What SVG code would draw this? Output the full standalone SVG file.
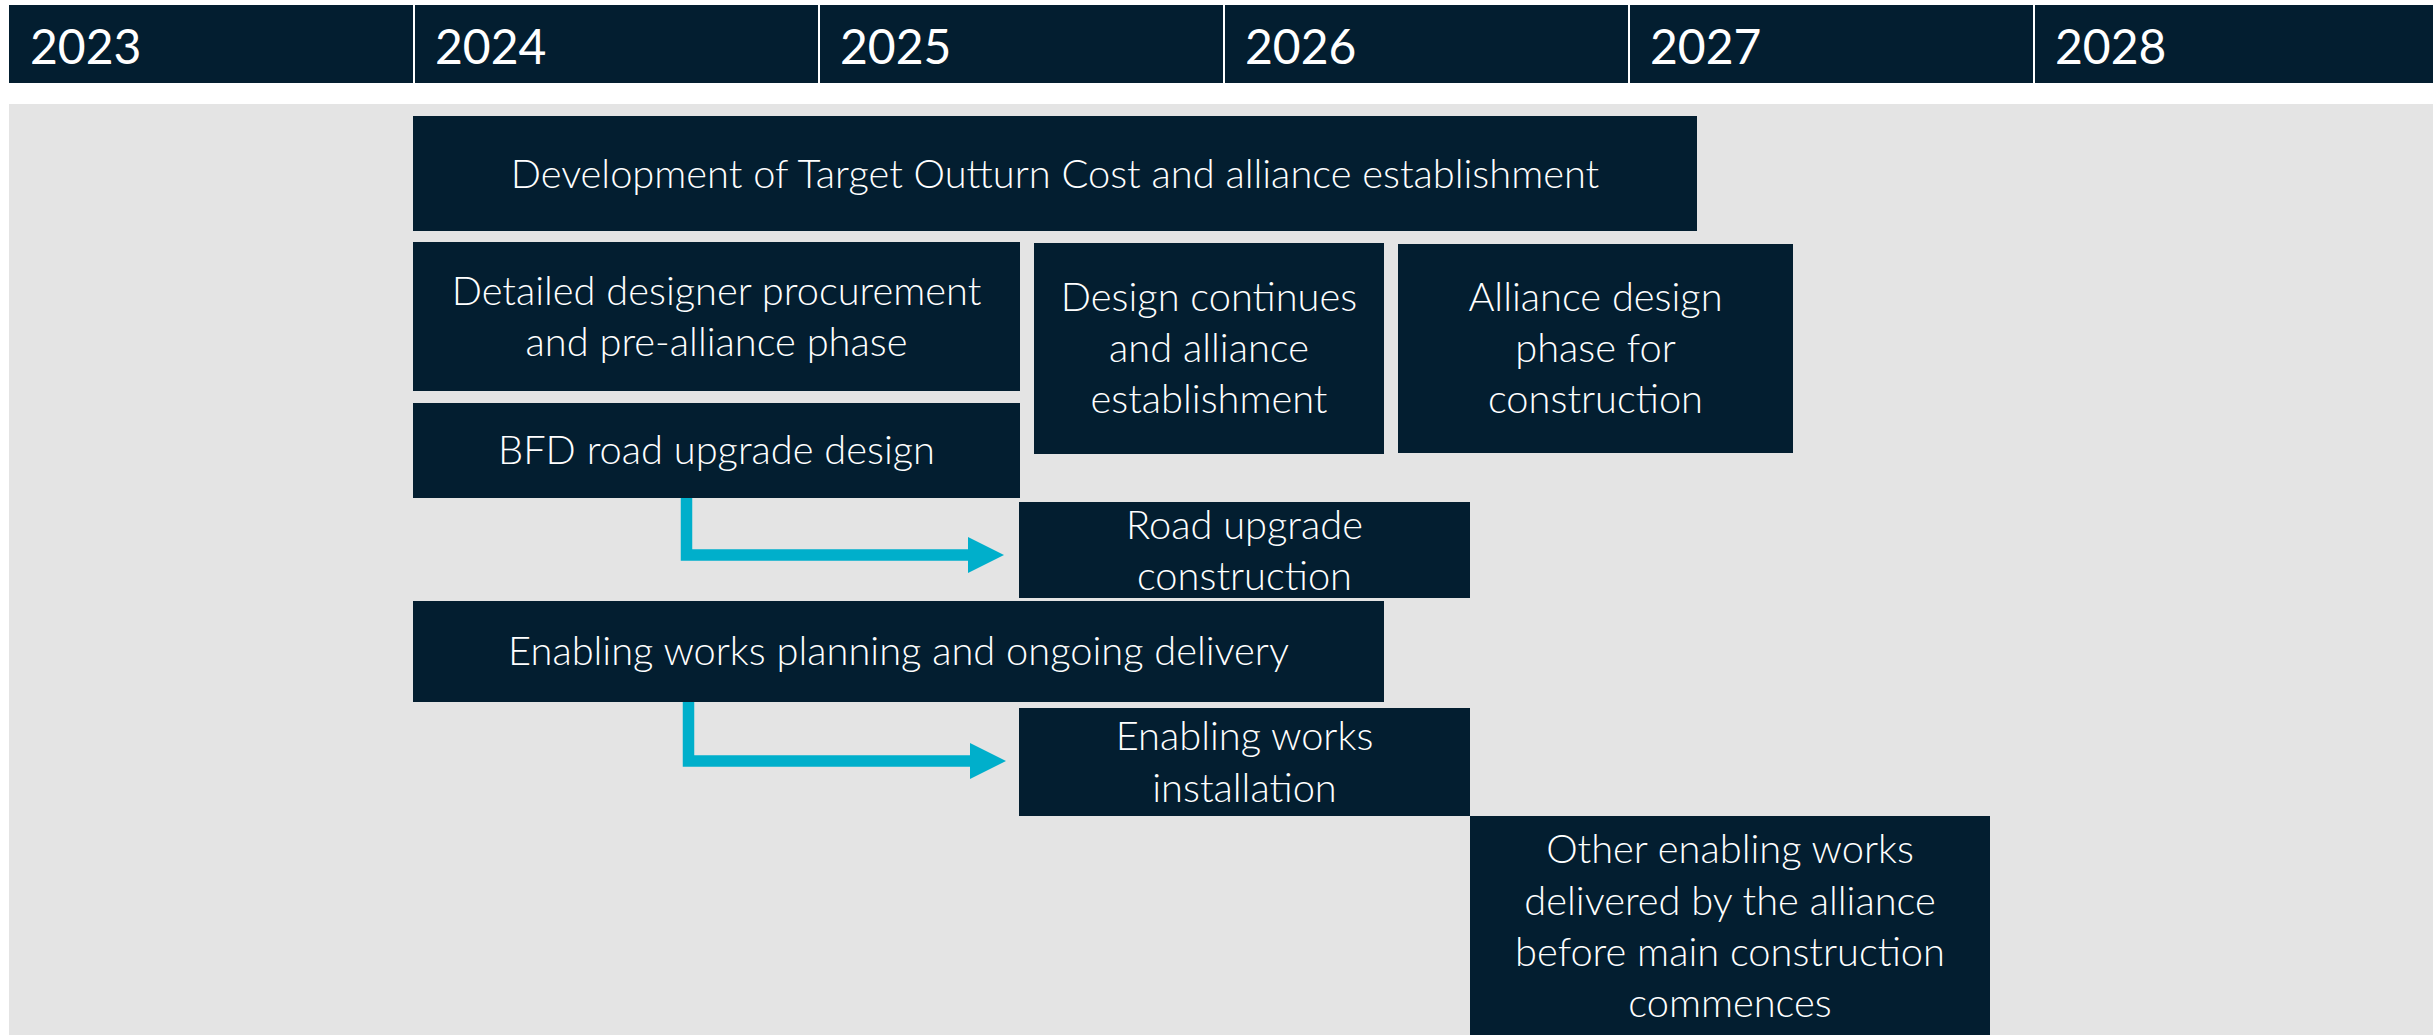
<svg xmlns="http://www.w3.org/2000/svg" width="2433" height="1035" viewBox="0 0 2433 1035">
  <style>
    .cell { fill: #031E30; }
    .box { fill: #031E30; }
    .yr { font-family: "Lato", "Liberation Sans", sans-serif; font-size: 48px; fill: #FFFFFF; }
    .t { font-family: "Lato", "Liberation Sans", sans-serif; font-weight: 300; font-size: 39.8px; fill: #FFFFFF; text-anchor: middle; }
    .conn { fill: none; stroke: #00AFCB; stroke-width: 11.5; stroke-linejoin: miter; stroke-linecap: butt; }
  </style>
  <defs>
    <marker id="head" markerUnits="userSpaceOnUse" viewBox="0 0 36 36" refX="0" refY="18" markerWidth="36" markerHeight="36" orient="auto">
      <path d="M0,0 L36,18 L0,36 Z" fill="#00AFCB"/>
    </marker>
  </defs>
  <rect x="0" y="0" width="2433" height="1035" fill="#FFFFFF"/>
  <g id="timeline-header">
    <rect class="cell" x="9" y="5" width="2424" height="78"/>
    <g stroke="#FFFFFF" stroke-width="2">
      <line x1="414" y1="5" x2="414" y2="83"/>
      <line x1="819" y1="5" x2="819" y2="83"/>
      <line x1="1224" y1="5" x2="1224" y2="83"/>
      <line x1="1629" y1="5" x2="1629" y2="83"/>
      <line x1="2034" y1="5" x2="2034" y2="83"/>
    </g>
    <text class="yr" x="30" y="64">2023</text>
    <text class="yr" x="435" y="64">2024</text>
    <text class="yr" x="840" y="64">2025</text>
    <text class="yr" x="1245" y="64">2026</text>
    <text class="yr" x="1650" y="64">2027</text>
    <text class="yr" x="2055" y="64">2028</text>
  </g>
  <rect x="9" y="104" width="2424" height="931" fill="#E4E4E4"/>
  <g id="connectors">
    <path class="conn" d="M686.5,497 V555 H968" marker-end="url(#head)"/>
    <path class="conn" d="M688.5,702 V761 H970" marker-end="url(#head)"/>
  </g>
  <g id="node-toc">
    <rect class="box" x="413" y="116" width="1284" height="115"/>
    <text class="t" x="1055" y="188">Development of Target Outturn Cost and alliance establishment</text>
  </g>
  <g id="node-detailed-designer">
    <rect class="box" x="413" y="242" width="607" height="149"/>
    <text class="t" x="716.5" y="305">Detailed designer procurement</text>
    <text class="t" x="716.5" y="356">and pre-alliance phase</text>
  </g>
  <g id="node-design-continues">
    <rect class="box" x="1034" y="243" width="350" height="211"/>
    <text class="t" x="1209" y="311">Design continues</text>
    <text class="t" x="1209" y="362">and alliance</text>
    <text class="t" x="1209" y="413">establishment</text>
  </g>
  <g id="node-alliance-design">
    <rect class="box" x="1398" y="244" width="395" height="209"/>
    <text class="t" x="1595.5" y="311">Alliance design</text>
    <text class="t" x="1595.5" y="362">phase for</text>
    <text class="t" x="1595.5" y="413">construction</text>
  </g>
  <g id="node-bfd-design">
    <rect class="box" x="413" y="403" width="607" height="95"/>
    <text class="t" x="716.5" y="464">BFD road upgrade design</text>
  </g>
  <g id="node-road-construction">
    <rect class="box" x="1019" y="502" width="451" height="96"/>
    <text class="t" x="1244.5" y="539">Road upgrade</text>
    <text class="t" x="1244.5" y="590">construction</text>
  </g>
  <g id="node-enabling-planning">
    <rect class="box" x="413" y="601" width="971" height="101"/>
    <text class="t" x="898.5" y="665">Enabling works planning and ongoing delivery</text>
  </g>
  <g id="node-enabling-installation">
    <rect class="box" x="1019" y="708" width="451" height="108"/>
    <text class="t" x="1244.5" y="750">Enabling works</text>
    <text class="t" x="1244.5" y="802">installation</text>
  </g>
  <g id="node-other-enabling">
    <rect class="box" x="1470" y="816" width="520" height="219"/>
    <text class="t" x="1730" y="863">Other enabling works</text>
    <text class="t" x="1730" y="915">delivered by the alliance</text>
    <text class="t" x="1730" y="966">before main construction</text>
    <text class="t" x="1730" y="1017">commences</text>
  </g>
</svg>
